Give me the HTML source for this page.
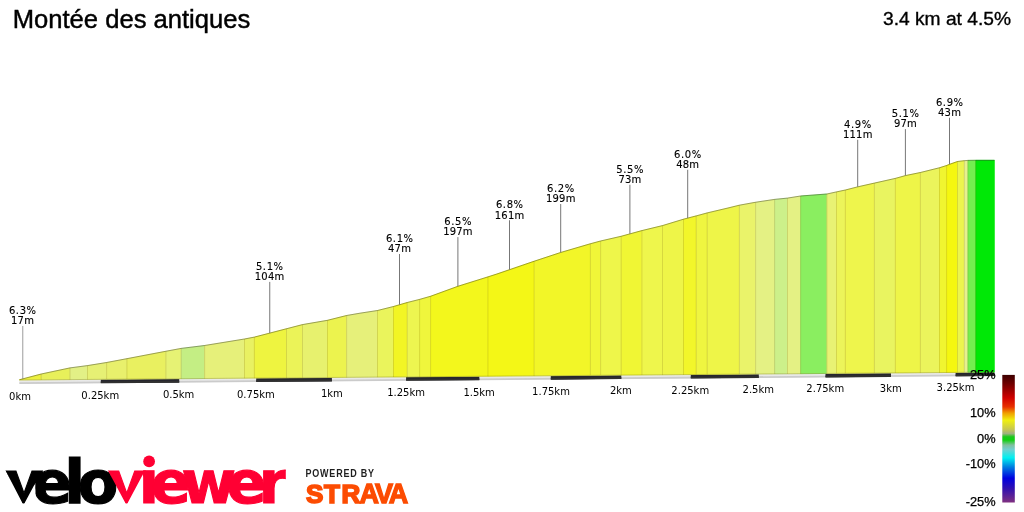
<!DOCTYPE html>
<html lang="fr">
<head>
<meta charset="utf-8">
<title>Montée des antiques</title>
<style>
html,body{margin:0;padding:0;background:#fff;}
body{width:1024px;height:512px;overflow:hidden;}
svg{display:block;}
text{white-space:pre;}
</style>
</head>
<body>
<svg width="1024" height="512" viewBox="0 0 1024 512">
<rect width="1024" height="512" fill="#fff"/>
<g id="road">
<polygon fill="#e9e9e9" points="19.4,380.25 994.45,372.35 994.45,375.8 19.4,383.7"/>
<polygon fill="#cbcbcb" points="19.4,382.15 994.45,374.25 994.45,376.1 19.4,384"/>
<polygon fill="#26262e" points="100.8,379.59 179.2,378.96 179.2,382.41 100.8,383.04"/>
<polygon fill="#303030" points="100.8,381.49 179.2,380.86 179.2,382.71 100.8,383.34"/>
<polygon fill="#26262e" points="256.2,378.33 331.9,377.72 331.9,381.17 256.2,381.78"/>
<polygon fill="#303030" points="256.2,380.23 331.9,379.62 331.9,381.47 256.2,382.08"/>
<polygon fill="#26262e" points="406.1,377.12 479.3,376.52 479.3,379.97 406.1,380.57"/>
<polygon fill="#303030" points="406.1,379.02 479.3,378.42 479.3,380.27 406.1,380.87"/>
<polygon fill="#26262e" points="550.8,375.94 621.3,375.37 621.3,378.82 550.8,379.39"/>
<polygon fill="#303030" points="550.8,377.84 621.3,377.27 621.3,379.12 550.8,379.69"/>
<polygon fill="#26262e" points="690.8,374.81 758.8,374.26 758.8,377.71 690.8,378.26"/>
<polygon fill="#303030" points="690.8,376.71 758.8,376.16 758.8,378.01 690.8,378.56"/>
<polygon fill="#26262e" points="825.5,373.72 891,373.19 891,376.64 825.5,377.17"/>
<polygon fill="#303030" points="825.5,375.62 891,375.09 891,376.94 825.5,377.47"/>
<polygon fill="#26262e" points="955.6,372.66 994.45,372.35 994.45,375.8 955.6,376.11"/>
<polygon fill="#303030" points="955.6,374.56 994.45,374.25 994.45,376.1 955.6,376.41"/>
</g>
<g id="profile">
<polygon fill="#ecf03e" stroke="#ecf03e" stroke-width="0.6" points="19.4,380 19.4,379.75 41.25,374 41.25,379.82"/>
<polygon fill="#e8f05a" stroke="#e8f05a" stroke-width="0.6" points="41.25,379.82 41.25,374 70,367.9 70,379.59"/>
<polygon fill="#e2f086" stroke="#e2f086" stroke-width="0.6" points="70,379.59 70,367.9 87.5,365.6 87.5,379.45"/>
<polygon fill="#e6f074" stroke="#e6f074" stroke-width="0.6" points="87.5,379.45 87.5,365.6 106.6,362.5 106.6,379.29"/>
<polygon fill="#e8f06c" stroke="#e8f06c" stroke-width="0.6" points="106.6,379.29 106.6,362.5 126.9,358.7 126.9,379.13"/>
<polygon fill="#e9f060" stroke="#e9f060" stroke-width="0.6" points="126.9,379.13 126.9,358.7 165.9,351.25 165.9,378.81"/>
<polygon fill="#e6f274" stroke="#e6f274" stroke-width="0.6" points="165.9,378.81 165.9,351.25 181.25,348.4 181.25,378.69"/>
<polygon fill="#c4ee84" stroke="#c4ee84" stroke-width="0.6" points="181.25,378.69 181.25,348.4 204.6,345.5 204.6,378.5"/>
<polygon fill="#e6f07a" stroke="#e6f07a" stroke-width="0.6" points="204.6,378.5 204.6,345.5 244.5,339 244.5,378.18"/>
<polygon fill="#e9f162" stroke="#e9f162" stroke-width="0.6" points="244.5,378.18 244.5,339 254.4,337.1 254.4,378.1"/>
<polygon fill="#eef440" stroke="#eef440" stroke-width="0.6" points="254.4,378.1 254.4,337.1 286.5,328.75 286.5,377.84"/>
<polygon fill="#ebf358" stroke="#ebf358" stroke-width="0.6" points="286.5,377.84 286.5,328.75 302.5,324.6 302.5,377.71"/>
<polygon fill="#e7f16e" stroke="#e7f16e" stroke-width="0.6" points="302.5,377.71 302.5,324.6 327.5,320.3 327.5,377.5"/>
<polygon fill="#ecf34e" stroke="#ecf34e" stroke-width="0.6" points="327.5,377.5 327.5,320.3 346.6,315.5 346.6,377.35"/>
<polygon fill="#e6f07a" stroke="#e6f07a" stroke-width="0.6" points="346.6,377.35 346.6,315.5 360,313.2 377.5,310.5 377.5,377.1"/>
<polygon fill="#eaf45c" stroke="#eaf45c" stroke-width="0.6" points="377.5,377.1 377.5,310.5 393.5,306.5 393.5,376.97"/>
<polygon fill="#f2f524" stroke="#f2f524" stroke-width="0.6" points="393.5,376.97 393.5,306.5 407.25,302.5 407.25,376.86"/>
<polygon fill="#edf550" stroke="#edf550" stroke-width="0.6" points="407.25,376.86 407.25,302.5 419.6,299.4 419.6,376.76"/>
<polygon fill="#eff63c" stroke="#eff63c" stroke-width="0.6" points="419.6,376.76 419.6,299.4 430.6,296.25 430.6,376.67"/>
<polygon fill="#f3f71c" stroke="#f3f71c" stroke-width="0.6" points="430.6,376.67 430.6,296.25 458,286.25 487.9,276.9 487.9,376.2"/>
<polygon fill="#f4f716" stroke="#f4f716" stroke-width="0.6" points="487.9,376.2 487.9,276.9 496.9,274 534.1,261.25 534.1,375.83"/>
<polygon fill="#f2f628" stroke="#f2f628" stroke-width="0.6" points="534.1,375.83 534.1,261.25 560.6,252.5 590.4,243.75 590.4,375.37"/>
<polygon fill="#f0f638" stroke="#f0f638" stroke-width="0.6" points="590.4,375.37 590.4,243.75 600.6,241 600.6,375.29"/>
<polygon fill="#eef64a" stroke="#eef64a" stroke-width="0.6" points="600.6,375.29 600.6,241 621.25,236.25 621.25,375.12"/>
<polygon fill="#f0f634" stroke="#f0f634" stroke-width="0.6" points="621.25,375.12 621.25,236.25 641.9,230.6 641.9,374.96"/>
<polygon fill="#eef64c" stroke="#eef64c" stroke-width="0.6" points="641.9,374.96 641.9,230.6 662.5,225.6 662.5,374.79"/>
<polygon fill="#eef548" stroke="#eef548" stroke-width="0.6" points="662.5,374.79 662.5,225.6 683.5,219.2 683.5,374.62"/>
<polygon fill="#f2f62a" stroke="#f2f62a" stroke-width="0.6" points="683.5,374.62 683.5,219.2 696.25,215.9 696.25,374.52"/>
<polygon fill="#eff540" stroke="#eff540" stroke-width="0.6" points="696.25,374.52 696.25,215.9 707.25,212.9 707.25,374.43"/>
<polygon fill="#eef548" stroke="#eef548" stroke-width="0.6" points="707.25,374.43 707.25,212.9 728,208 739.4,205.2 739.4,374.17"/>
<polygon fill="#eaf36a" stroke="#eaf36a" stroke-width="0.6" points="739.4,374.17 739.4,205.2 755.6,202.25 755.6,374.04"/>
<polygon fill="#e4f184" stroke="#e4f184" stroke-width="0.6" points="755.6,374.04 755.6,202.25 774.6,199.4 774.6,373.88"/>
<polygon fill="#ccf08a" stroke="#ccf08a" stroke-width="0.6" points="774.6,373.88 774.6,199.4 787.5,198.1 787.5,373.78"/>
<polygon fill="#e4f184" stroke="#e4f184" stroke-width="0.6" points="787.5,373.78 787.5,198.1 800.6,196 800.6,373.67"/>
<polygon fill="#8aee60" stroke="#8aee60" stroke-width="0.6" points="800.6,373.67 800.6,196 826.9,194 826.9,373.46"/>
<polygon fill="#e8f274" stroke="#e8f274" stroke-width="0.6" points="826.9,373.46 826.9,194 836.5,191.9 836.5,373.38"/>
<polygon fill="#ecf45a" stroke="#ecf45a" stroke-width="0.6" points="836.5,373.38 836.5,191.9 845.4,190 845.4,373.31"/>
<polygon fill="#eef54c" stroke="#eef54c" stroke-width="0.6" points="845.4,373.31 845.4,190 857.5,186.9 874.4,183.1 874.4,373.07"/>
<polygon fill="#e9f460" stroke="#e9f460" stroke-width="0.6" points="874.4,373.07 874.4,183.1 895.4,178.4 895.4,372.9"/>
<polygon fill="#eef548" stroke="#eef548" stroke-width="0.6" points="895.4,372.9 895.4,178.4 905.4,175.6 920.4,172.5 920.4,372.7"/>
<polygon fill="#ebf45c" stroke="#ebf45c" stroke-width="0.6" points="920.4,372.7 920.4,172.5 939.5,167.75 939.5,372.55"/>
<polygon fill="#f0f530" stroke="#f0f530" stroke-width="0.6" points="939.5,372.55 939.5,167.75 946.6,165.5 946.6,372.49"/>
<polygon fill="#f5f710" stroke="#f5f710" stroke-width="0.6" points="946.6,372.49 946.6,165.5 949.6,164.3 957.5,161.5 957.5,372.4"/>
<polygon fill="#ecf54e" stroke="#ecf54e" stroke-width="0.6" points="957.5,372.4 957.5,161.5 964.3,160.7 964.3,372.34"/>
<polygon fill="#e7f090" stroke="#e7f090" stroke-width="0.6" points="964.3,372.34 964.3,160.7 967.9,160.4 967.9,372.32"/>
<polygon fill="#74ee50" stroke="#74ee50" stroke-width="0.6" points="967.9,372.32 967.9,160.4 975.7,160.3 975.7,372.25"/>
<polygon fill="#00e806" stroke="#00e806" stroke-width="0.6" points="975.7,372.25 975.7,160.3 994.45,160.3 994.45,372.1"/>
<line x1="41.25" y1="374" x2="41.25" y2="379.82" stroke="#7a6a00" stroke-opacity="0.24" stroke-width="0.9"/>
<line x1="70" y1="367.9" x2="70" y2="379.59" stroke="#7a6a00" stroke-opacity="0.24" stroke-width="0.9"/>
<line x1="87.5" y1="365.6" x2="87.5" y2="379.45" stroke="#7a6a00" stroke-opacity="0.24" stroke-width="0.9"/>
<line x1="106.6" y1="362.5" x2="106.6" y2="379.29" stroke="#7a6a00" stroke-opacity="0.24" stroke-width="0.9"/>
<line x1="126.9" y1="358.7" x2="126.9" y2="379.13" stroke="#7a6a00" stroke-opacity="0.24" stroke-width="0.9"/>
<line x1="165.9" y1="351.25" x2="165.9" y2="378.81" stroke="#7a6a00" stroke-opacity="0.24" stroke-width="0.9"/>
<line x1="181.25" y1="348.4" x2="181.25" y2="378.69" stroke="#7a6a00" stroke-opacity="0.24" stroke-width="0.9"/>
<line x1="204.6" y1="345.5" x2="204.6" y2="378.5" stroke="#7a6a00" stroke-opacity="0.24" stroke-width="0.9"/>
<line x1="244.5" y1="339" x2="244.5" y2="378.18" stroke="#7a6a00" stroke-opacity="0.24" stroke-width="0.9"/>
<line x1="254.4" y1="337.1" x2="254.4" y2="378.1" stroke="#7a6a00" stroke-opacity="0.24" stroke-width="0.9"/>
<line x1="286.5" y1="328.75" x2="286.5" y2="377.84" stroke="#7a6a00" stroke-opacity="0.24" stroke-width="0.9"/>
<line x1="302.5" y1="324.6" x2="302.5" y2="377.71" stroke="#7a6a00" stroke-opacity="0.24" stroke-width="0.9"/>
<line x1="327.5" y1="320.3" x2="327.5" y2="377.5" stroke="#7a6a00" stroke-opacity="0.24" stroke-width="0.9"/>
<line x1="346.6" y1="315.5" x2="346.6" y2="377.35" stroke="#7a6a00" stroke-opacity="0.24" stroke-width="0.9"/>
<line x1="377.5" y1="310.5" x2="377.5" y2="377.1" stroke="#7a6a00" stroke-opacity="0.24" stroke-width="0.9"/>
<line x1="393.5" y1="306.5" x2="393.5" y2="376.97" stroke="#7a6a00" stroke-opacity="0.24" stroke-width="0.9"/>
<line x1="407.25" y1="302.5" x2="407.25" y2="376.86" stroke="#7a6a00" stroke-opacity="0.24" stroke-width="0.9"/>
<line x1="419.6" y1="299.4" x2="419.6" y2="376.76" stroke="#7a6a00" stroke-opacity="0.24" stroke-width="0.9"/>
<line x1="430.6" y1="296.25" x2="430.6" y2="376.67" stroke="#7a6a00" stroke-opacity="0.24" stroke-width="0.9"/>
<line x1="487.9" y1="276.9" x2="487.9" y2="376.2" stroke="#7a6a00" stroke-opacity="0.24" stroke-width="0.9"/>
<line x1="534.1" y1="261.25" x2="534.1" y2="375.83" stroke="#7a6a00" stroke-opacity="0.24" stroke-width="0.9"/>
<line x1="590.4" y1="243.75" x2="590.4" y2="375.37" stroke="#7a6a00" stroke-opacity="0.24" stroke-width="0.9"/>
<line x1="600.6" y1="241" x2="600.6" y2="375.29" stroke="#7a6a00" stroke-opacity="0.24" stroke-width="0.9"/>
<line x1="621.25" y1="236.25" x2="621.25" y2="375.12" stroke="#7a6a00" stroke-opacity="0.24" stroke-width="0.9"/>
<line x1="641.9" y1="230.6" x2="641.9" y2="374.96" stroke="#7a6a00" stroke-opacity="0.24" stroke-width="0.9"/>
<line x1="662.5" y1="225.6" x2="662.5" y2="374.79" stroke="#7a6a00" stroke-opacity="0.24" stroke-width="0.9"/>
<line x1="683.5" y1="219.2" x2="683.5" y2="374.62" stroke="#7a6a00" stroke-opacity="0.24" stroke-width="0.9"/>
<line x1="696.25" y1="215.9" x2="696.25" y2="374.52" stroke="#7a6a00" stroke-opacity="0.24" stroke-width="0.9"/>
<line x1="707.25" y1="212.9" x2="707.25" y2="374.43" stroke="#7a6a00" stroke-opacity="0.24" stroke-width="0.9"/>
<line x1="739.4" y1="205.2" x2="739.4" y2="374.17" stroke="#7a6a00" stroke-opacity="0.24" stroke-width="0.9"/>
<line x1="755.6" y1="202.25" x2="755.6" y2="374.04" stroke="#7a6a00" stroke-opacity="0.24" stroke-width="0.9"/>
<line x1="774.6" y1="199.4" x2="774.6" y2="373.88" stroke="#7a6a00" stroke-opacity="0.24" stroke-width="0.9"/>
<line x1="787.5" y1="198.1" x2="787.5" y2="373.78" stroke="#7a6a00" stroke-opacity="0.24" stroke-width="0.9"/>
<line x1="800.6" y1="196" x2="800.6" y2="373.67" stroke="#7a6a00" stroke-opacity="0.24" stroke-width="0.9"/>
<line x1="826.9" y1="194" x2="826.9" y2="373.46" stroke="#7a6a00" stroke-opacity="0.24" stroke-width="0.9"/>
<line x1="836.5" y1="191.9" x2="836.5" y2="373.38" stroke="#7a6a00" stroke-opacity="0.24" stroke-width="0.9"/>
<line x1="845.4" y1="190" x2="845.4" y2="373.31" stroke="#7a6a00" stroke-opacity="0.24" stroke-width="0.9"/>
<line x1="874.4" y1="183.1" x2="874.4" y2="373.07" stroke="#7a6a00" stroke-opacity="0.24" stroke-width="0.9"/>
<line x1="895.4" y1="178.4" x2="895.4" y2="372.9" stroke="#7a6a00" stroke-opacity="0.24" stroke-width="0.9"/>
<line x1="920.4" y1="172.5" x2="920.4" y2="372.7" stroke="#7a6a00" stroke-opacity="0.24" stroke-width="0.9"/>
<line x1="939.5" y1="167.75" x2="939.5" y2="372.55" stroke="#7a6a00" stroke-opacity="0.24" stroke-width="0.9"/>
<line x1="946.6" y1="165.5" x2="946.6" y2="372.49" stroke="#7a6a00" stroke-opacity="0.24" stroke-width="0.9"/>
<line x1="957.5" y1="161.5" x2="957.5" y2="372.4" stroke="#7a6a00" stroke-opacity="0.24" stroke-width="0.9"/>
<line x1="964.3" y1="160.7" x2="964.3" y2="372.34" stroke="#7a6a00" stroke-opacity="0.24" stroke-width="0.9"/>
<line x1="967.9" y1="160.4" x2="967.9" y2="372.32" stroke="#7a6a00" stroke-opacity="0.24" stroke-width="0.9"/>
<line x1="975.7" y1="160.3" x2="975.7" y2="372.25" stroke="#7a6a00" stroke-opacity="0.24" stroke-width="0.9"/>
<polyline fill="none" stroke="#595b17" stroke-opacity="0.8" stroke-width="0.7" points="19.4,379.75 41.25,374"/>
<polyline fill="none" stroke="#585b22" stroke-opacity="0.8" stroke-width="0.7" points="41.25,374 70,367.9"/>
<polyline fill="none" stroke="#555b32" stroke-opacity="0.8" stroke-width="0.7" points="70,367.9 87.5,365.6"/>
<polyline fill="none" stroke="#575b2c" stroke-opacity="0.8" stroke-width="0.7" points="87.5,365.6 106.6,362.5"/>
<polyline fill="none" stroke="#585b29" stroke-opacity="0.8" stroke-width="0.7" points="106.6,362.5 126.9,358.7"/>
<polyline fill="none" stroke="#585b24" stroke-opacity="0.8" stroke-width="0.7" points="126.9,358.7 165.9,351.25"/>
<polyline fill="none" stroke="#575b2c" stroke-opacity="0.8" stroke-width="0.7" points="165.9,351.25 181.25,348.4"/>
<polyline fill="none" stroke="#4a5a32" stroke-opacity="0.8" stroke-width="0.7" points="181.25,348.4 204.6,345.5"/>
<polyline fill="none" stroke="#575b2e" stroke-opacity="0.8" stroke-width="0.7" points="204.6,345.5 244.5,339"/>
<polyline fill="none" stroke="#585b25" stroke-opacity="0.8" stroke-width="0.7" points="244.5,339 254.4,337.1"/>
<polyline fill="none" stroke="#5a5c18" stroke-opacity="0.8" stroke-width="0.7" points="254.4,337.1 286.5,328.75"/>
<polyline fill="none" stroke="#595c21" stroke-opacity="0.8" stroke-width="0.7" points="286.5,328.75 302.5,324.6"/>
<polyline fill="none" stroke="#575b29" stroke-opacity="0.8" stroke-width="0.7" points="302.5,324.6 327.5,320.3"/>
<polyline fill="none" stroke="#595c1d" stroke-opacity="0.8" stroke-width="0.7" points="327.5,320.3 346.6,315.5"/>
<polyline fill="none" stroke="#575b2e" stroke-opacity="0.8" stroke-width="0.7" points="346.6,315.5 360,313.2 377.5,310.5"/>
<polyline fill="none" stroke="#585c22" stroke-opacity="0.8" stroke-width="0.7" points="377.5,310.5 393.5,306.5"/>
<polyline fill="none" stroke="#5b5d0d" stroke-opacity="0.8" stroke-width="0.7" points="393.5,306.5 407.25,302.5"/>
<polyline fill="none" stroke="#5a5d1e" stroke-opacity="0.8" stroke-width="0.7" points="407.25,302.5 419.6,299.4"/>
<polyline fill="none" stroke="#5a5d16" stroke-opacity="0.8" stroke-width="0.7" points="419.6,299.4 430.6,296.25"/>
<polyline fill="none" stroke="#5c5d0a" stroke-opacity="0.8" stroke-width="0.7" points="430.6,296.25 458,286.25 487.9,276.9"/>
<polyline fill="none" stroke="#5c5d08" stroke-opacity="0.8" stroke-width="0.7" points="487.9,276.9 496.9,274 534.1,261.25"/>
<polyline fill="none" stroke="#5b5d0f" stroke-opacity="0.8" stroke-width="0.7" points="534.1,261.25 560.6,252.5 590.4,243.75"/>
<polyline fill="none" stroke="#5b5d15" stroke-opacity="0.8" stroke-width="0.7" points="590.4,243.75 600.6,241"/>
<polyline fill="none" stroke="#5a5d1c" stroke-opacity="0.8" stroke-width="0.7" points="600.6,241 621.25,236.25"/>
<polyline fill="none" stroke="#5b5d13" stroke-opacity="0.8" stroke-width="0.7" points="621.25,236.25 641.9,230.6"/>
<polyline fill="none" stroke="#5a5d1c" stroke-opacity="0.8" stroke-width="0.7" points="641.9,230.6 662.5,225.6"/>
<polyline fill="none" stroke="#5a5d1b" stroke-opacity="0.8" stroke-width="0.7" points="662.5,225.6 683.5,219.2"/>
<polyline fill="none" stroke="#5b5d0f" stroke-opacity="0.8" stroke-width="0.7" points="683.5,219.2 696.25,215.9"/>
<polyline fill="none" stroke="#5a5d18" stroke-opacity="0.8" stroke-width="0.7" points="696.25,215.9 707.25,212.9"/>
<polyline fill="none" stroke="#5a5d1b" stroke-opacity="0.8" stroke-width="0.7" points="707.25,212.9 728,208 739.4,205.2"/>
<polyline fill="none" stroke="#585c28" stroke-opacity="0.8" stroke-width="0.7" points="739.4,205.2 755.6,202.25"/>
<polyline fill="none" stroke="#565b32" stroke-opacity="0.8" stroke-width="0.7" points="755.6,202.25 774.6,199.4"/>
<polyline fill="none" stroke="#4d5b34" stroke-opacity="0.8" stroke-width="0.7" points="774.6,199.4 787.5,198.1"/>
<polyline fill="none" stroke="#565b32" stroke-opacity="0.8" stroke-width="0.7" points="787.5,198.1 800.6,196"/>
<polyline fill="none" stroke="#345a24" stroke-opacity="0.8" stroke-width="0.7" points="800.6,196 826.9,194"/>
<polyline fill="none" stroke="#585b2c" stroke-opacity="0.8" stroke-width="0.7" points="826.9,194 836.5,191.9"/>
<polyline fill="none" stroke="#595c22" stroke-opacity="0.8" stroke-width="0.7" points="836.5,191.9 845.4,190"/>
<polyline fill="none" stroke="#5a5d1c" stroke-opacity="0.8" stroke-width="0.7" points="845.4,190 857.5,186.9 874.4,183.1"/>
<polyline fill="none" stroke="#585c24" stroke-opacity="0.8" stroke-width="0.7" points="874.4,183.1 895.4,178.4"/>
<polyline fill="none" stroke="#5a5d1b" stroke-opacity="0.8" stroke-width="0.7" points="895.4,178.4 905.4,175.6 920.4,172.5"/>
<polyline fill="none" stroke="#595c22" stroke-opacity="0.8" stroke-width="0.7" points="920.4,172.5 939.5,167.75"/>
<polyline fill="none" stroke="#5b5d12" stroke-opacity="0.8" stroke-width="0.7" points="939.5,167.75 946.6,165.5"/>
<polyline fill="none" stroke="#5d5d06" stroke-opacity="0.8" stroke-width="0.7" points="946.6,165.5 949.6,164.3 957.5,161.5"/>
<polyline fill="none" stroke="#595d1d" stroke-opacity="0.8" stroke-width="0.7" points="957.5,161.5 964.3,160.7"/>
<polyline fill="none" stroke="#575b36" stroke-opacity="0.8" stroke-width="0.7" points="964.3,160.7 967.9,160.4"/>
<polyline fill="none" stroke="#2c5a1e" stroke-opacity="0.8" stroke-width="0.7" points="967.9,160.4 975.7,160.3"/>
<polyline fill="none" stroke="#005802" stroke-opacity="0.8" stroke-width="0.7" points="975.7,160.3 994.45,160.3"/>
<line x1="19.4" y1="380" x2="994.45" y2="372.1" stroke="#6a6a00" stroke-opacity="0.45" stroke-width="0.7"/>
</g>
<g id="labels" font-family="'DejaVu Sans', 'Liberation Sans', sans-serif" font-size="10" text-anchor="middle" fill="#000" stroke="#000" stroke-width="0.12">
<line x1="22.77" y1="326" x2="22.77" y2="378.86" stroke="#777" stroke-width="0.72"/>
<text x="22.8" y="314" letter-spacing="0.6">6.3%</text>
<text x="22.6" y="324" letter-spacing="0.2">17m</text>
<line x1="269.75" y1="281.9" x2="269.75" y2="333.11" stroke="#777" stroke-width="1"/>
<text x="269.8" y="270" letter-spacing="0.6">5.1%</text>
<text x="269.6" y="280" letter-spacing="0.2">104m</text>
<line x1="399.5" y1="254" x2="399.5" y2="304.75" stroke="#777" stroke-width="1"/>
<text x="399.8" y="242" letter-spacing="0.6">6.1%</text>
<text x="399.6" y="252" letter-spacing="0.2">47m</text>
<line x1="457.9" y1="237.1" x2="457.9" y2="286.29" stroke="#777" stroke-width="1"/>
<text x="458.2" y="225" letter-spacing="0.6">6.5%</text>
<text x="458" y="235" letter-spacing="0.2">197m</text>
<line x1="509.5" y1="220.25" x2="509.5" y2="269.68" stroke="#777" stroke-width="1"/>
<text x="509.8" y="208" letter-spacing="0.6">6.8%</text>
<text x="509.6" y="219" letter-spacing="0.2">161m</text>
<line x1="560.7" y1="204" x2="560.7" y2="252.47" stroke="#777" stroke-width="1"/>
<text x="561" y="192" letter-spacing="0.6">6.2%</text>
<text x="560.8" y="202" letter-spacing="0.2">199m</text>
<line x1="629.9" y1="184.75" x2="629.9" y2="233.88" stroke="#777" stroke-width="1"/>
<text x="630.2" y="173" letter-spacing="0.6">5.5%</text>
<text x="630" y="183" letter-spacing="0.2">73m</text>
<line x1="687.7" y1="169.75" x2="687.7" y2="218.11" stroke="#777" stroke-width="1"/>
<text x="688" y="158" letter-spacing="0.6">6.0%</text>
<text x="687.8" y="168" letter-spacing="0.2">48m</text>
<line x1="857.7" y1="139.75" x2="857.7" y2="186.86" stroke="#777" stroke-width="1"/>
<text x="858" y="128" letter-spacing="0.6">4.9%</text>
<text x="857.8" y="138" letter-spacing="0.2">111m</text>
<line x1="905.4" y1="129.1" x2="905.4" y2="175.6" stroke="#777" stroke-width="1"/>
<text x="905.7" y="117" letter-spacing="0.6">5.1%</text>
<text x="905.5" y="127" letter-spacing="0.2">97m</text>
<line x1="949.5" y1="117.75" x2="949.5" y2="164.34" stroke="#777" stroke-width="1"/>
<text x="949.8" y="106" letter-spacing="0.6">6.9%</text>
<text x="949.6" y="116" letter-spacing="0.2">43m</text>
</g>
<g id="axis" font-family="'DejaVu Sans', 'Liberation Sans', sans-serif" font-size="10" text-anchor="middle" fill="#000">
<text x="20" y="399.5">0km</text>
<text x="100.25" y="398.75">0.25km</text>
<text x="178.6" y="397.5">0.5km</text>
<text x="255.9" y="397.5">0.75km</text>
<text x="331.9" y="396.75">1km</text>
<text x="406.1" y="395.75">1.25km</text>
<text x="479.1" y="395.75">1.5km</text>
<text x="551" y="394.75">1.75km</text>
<text x="620.9" y="393.5">2km</text>
<text x="690.25" y="393.5">2.25km</text>
<text x="758.25" y="392.75">2.5km</text>
<text x="825.25" y="391.5">2.75km</text>
<text x="890.75" y="391.5">3km</text>
<text x="955.5" y="390.75">3.25km</text>
</g>
<defs><linearGradient id="lg" x1="0" y1="0" x2="0" y2="1">
<stop offset="0" stop-color="#3c0000"/>
<stop offset="0.07" stop-color="#700000"/>
<stop offset="0.18" stop-color="#d00000"/>
<stop offset="0.25" stop-color="#e83000"/>
<stop offset="0.3" stop-color="#f0a000"/>
<stop offset="0.355" stop-color="#f0f010"/>
<stop offset="0.425" stop-color="#c8c850"/>
<stop offset="0.46" stop-color="#a0b080"/>
<stop offset="0.485" stop-color="#1cc81c"/>
<stop offset="0.51" stop-color="#10d010"/>
<stop offset="0.55" stop-color="#80c0a0"/>
<stop offset="0.585" stop-color="#70d0d0"/>
<stop offset="0.65" stop-color="#00f0f0"/>
<stop offset="0.72" stop-color="#0080e0"/>
<stop offset="0.81" stop-color="#0000e0"/>
<stop offset="0.89" stop-color="#3010b0"/>
<stop offset="1" stop-color="#803080"/>
</linearGradient></defs>
<rect x="1002.3" y="374.9" width="12.5" height="127.6" fill="url(#lg)"/>
<g id="legend" font-family="'Liberation Sans', Arial, sans-serif" font-size="12.8" text-anchor="end" fill="#000" stroke="#000" stroke-width="0.25">
<text x="995.6" y="378.9">25%</text>
<text x="995.6" y="416.9">10%</text>
<text x="995.6" y="442.7">0%</text>
<text x="995.6" y="468">-10%</text>
<text x="995.6" y="506.3">-25%</text>
</g>
<text x="12.7" y="27.5" font-family="'Liberation Sans', Arial, sans-serif" font-size="25.6" fill="#000" stroke="#000" stroke-width="0.45">Montée des antiques</text>
<text x="1011" y="25" text-anchor="end" font-family="'Liberation Sans', Arial, sans-serif" font-size="19.2" fill="#000" stroke="#000" stroke-width="0.35">3.4 km at 4.5%</text>
<g id="logo">
<defs>
<clipPath id="cpv"><polygon points="4.5,468.5 43,468.5 24.1,504 22.9,504"/><rect x="35.6" y="440" width="90" height="72"/></clipPath>
<clipPath id="cpw"><polygon points="107.2,468.9 145.8,468.9 127.1,504 125.9,504"/><rect x="143.1" y="468.9" width="142.7" height="43.1"/><rect x="160" y="440" width="125.8" height="29"/></clipPath>
</defs>
<g clip-path="url(#cpv)"><text y="502.7" x="4.7 32 64.3 77.8" font-family="'DejaVu Sans', 'Liberation Sans', sans-serif" font-weight="bold" font-size="59" fill="#000" stroke="#000" stroke-width="1.15" stroke-linejoin="miter">ve<tspan font-size="61">l</tspan>o</text></g>
<g clip-path="url(#cpw)"><text y="502.7" x="107.4 138.8 150.75 181.5 226.4 258.7" font-family="'DejaVu Sans', 'Liberation Sans', sans-serif" font-weight="bold" font-size="59" fill="#ff0033" stroke="#ff0033" stroke-width="1.15" stroke-linejoin="miter">viewer</text></g>
<circle cx="149.1" cy="461.4" r="5.9" fill="#ff0033"/>
<text transform="translate(305.6 476.7) scale(0.9 1)" font-family="'Liberation Sans', Arial, sans-serif" font-weight="bold" font-size="10" fill="#1e1e1e" textLength="76" lengthAdjust="spacing">POWERED BY</text>
<text y="503" x="306.1 324 341.6 359.5 375.0 388.8" font-family="'Liberation Sans', Arial, sans-serif" font-weight="bold" font-size="26" fill="#fc4c02" stroke="#fc4c02" stroke-width="1.7" stroke-linejoin="miter">STR<tspan font-size="27" stroke-width="1.3">AVA</tspan></text>
</g>

</svg>
</body>
</html>
